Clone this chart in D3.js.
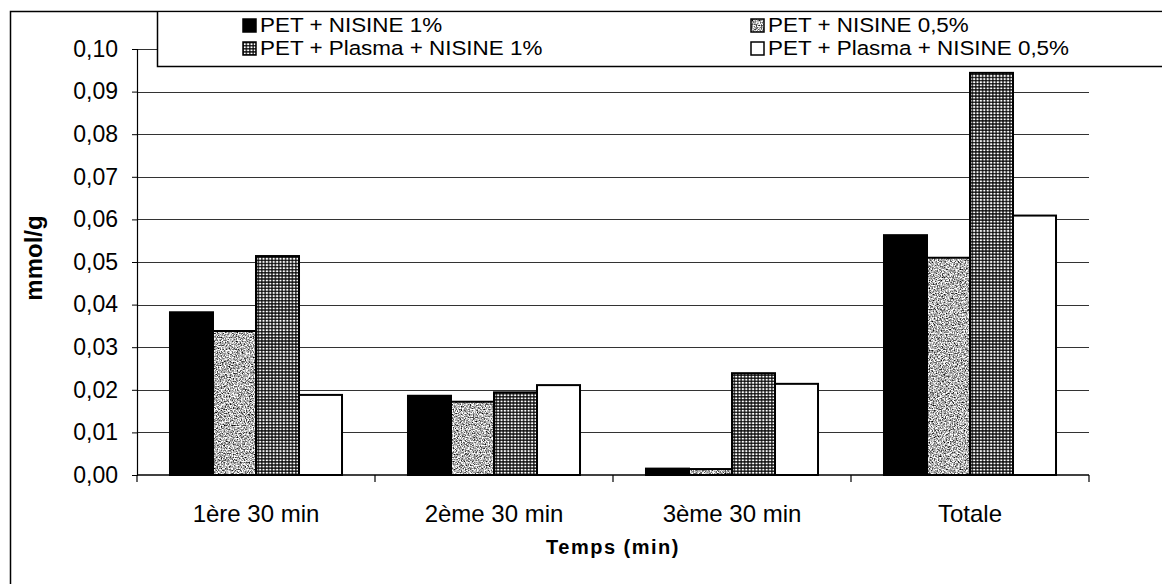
<!DOCTYPE html>
<html>
<head>
<meta charset="utf-8">
<script src="https://cdn.jsdelivr.net/npm/d3@7"></script>
<style>
  html, body { margin: 0; padding: 0; background: #fff; }
  svg { display: block; font-family: "Liberation Sans", Arial, sans-serif; }
</style>
</head>
<body>
<svg id="chart" width="1162" height="584"></svg>
<script>
// Categories along the time axis
const categories = ["1ère 30 min", "2ème 30 min", "3ème 30 min", "Totale"];

// Series names (legend order)
const seriesNames = [
  "PET + NISINE 1%",
  "PET + NISINE 0,5%",
  "PET + Plasma + NISINE 1%",
  "PET + Plasma + NISINE 0,5%"
];

// Values in mmol/g, one array per series
const nisine1 = [0.0382, 0.0186, 0.0015, 0.0563];
const nisine05 = [0.0338, 0.0172, 0.0014, 0.0510];
const plasmaNisine1 = [0.0514, 0.0194, 0.0239, 0.0944];
const plasmaNisine05 = [0.0188, 0.0211, 0.0214, 0.0609];

const yTicks = [0, 0.01, 0.02, 0.03, 0.04, 0.05, 0.06, 0.07, 0.08, 0.09, 0.10];

const seriesValues = [nisine1, nisine05, plasmaNisine1, plasmaNisine05];

const svg = d3.select("#chart");
const defs = svg.append("defs");

// Grainy grey texture
const grain = defs.append("filter")
  .attr("id", "grainFilter")
  .attr("x", 0).attr("y", 0).attr("width", 1).attr("height", 1)
  .attr("color-interpolation-filters", "sRGB");
grain.append("feTurbulence")
  .attr("type", "fractalNoise")
  .attr("baseFrequency", 0.75)
  .attr("numOctaves", 2)
  .attr("seed", 7)
  .attr("result", "noise");
grain.append("feColorMatrix")
  .attr("in", "noise")
  .attr("type", "matrix")
  .attr("values", "2.2 0 0 0 -0.4  2.2 0 0 0 -0.4  2.2 0 0 0 -0.4  0 0 0 0 1");
const grainPat = defs.append("pattern")
  .attr("id", "grain")
  .attr("patternUnits", "userSpaceOnUse")
  .attr("width", 200).attr("height", 200);
grainPat.append("rect")
  .attr("width", 200).attr("height", 200)
  .attr("fill", "#999")
  .attr("filter", "url(#grainFilter)");

// Dense dot texture
const dots = defs.append("pattern")
  .attr("id", "dots")
  .attr("patternUnits", "userSpaceOnUse")
  .attr("width", 3.4).attr("height", 3.1);
dots.append("rect").attr("width", 3.4).attr("height", 3.1).attr("fill", "#111");
dots.append("ellipse").attr("cx", 1.7).attr("cy", 1.55).attr("rx", 1.2).attr("ry", 1.0).attr("fill", "#fff");

const fills = ["#000", "url(#grain)", "url(#dots)", "#fff"];

// Plot geometry
const plot = { left: 137, right: 1089, top: 49, bottom: 475 };

const x = d3.scaleBand()
  .domain(categories)
  .range([plot.left, plot.right])
  .paddingInner(0).paddingOuter(0);

const xs = d3.scaleBand()
  .domain(seriesNames)
  .range([0, x.bandwidth()])
  .paddingInner(0)
  .paddingOuter(0.767);

const y = d3.scaleLinear()
  .domain([0, 0.10])
  .range([plot.bottom, plot.top]);

const fmt = v => d3.format(".2f")(v).replace(".", ",");

// Outer frame
svg.append("path")
  .attr("d", `M10.5,${584} V11.5 H${1162}`)
  .attr("fill", "none").attr("stroke", "#000").attr("stroke-width", 1.5);

// Gridlines
svg.append("g")
  .selectAll("line")
  .data(yTicks.slice(1))
  .join("line")
  .attr("x1", plot.left).attr("x2", plot.right)
  .attr("y1", d => Math.round(y(d)) + 0.5).attr("y2", d => Math.round(y(d)) + 0.5)
  .attr("stroke", "#333").attr("stroke-width", 1);

// Bars
const groups = svg.append("g")
  .selectAll("g")
  .data(seriesNames)
  .join("g");

groups.each(function(name, si) {
  d3.select(this).selectAll("rect")
    .data(categories.map((c, ci) => ({ c, v: seriesValues[si][ci] })))
    .join("rect")
    .attr("x", d => x(d.c) + xs(name))
    .attr("width", xs.bandwidth())
    .attr("y", d => y(d.v))
    .attr("height", d => y(0) - y(d.v))
    .attr("fill", fills[si])
    .attr("stroke", "#000")
    .attr("stroke-width", 2);
});

// Y axis
const yAxis = d3.axisLeft(y)
  .tickValues(yTicks)
  .tickFormat(fmt)
  .tickSize(5)
  .tickPadding(14);
const gy = svg.append("g")
  .attr("transform", `translate(${plot.left},0)`)
  .call(yAxis);
gy.select(".domain").attr("stroke", "#000").attr("stroke-width", 1.2);
gy.selectAll(".tick line").attr("stroke", "#000");
gy.selectAll(".tick text")
  .attr("font-family", "Liberation Sans, Arial, sans-serif")
  .attr("font-size", 23)
  .attr("fill", "#000");

// X axis with ticks on category boundaries
const gx = svg.append("g")
  .attr("transform", `translate(0,${plot.bottom})`);
gx.append("line")
  .attr("x1", plot.left).attr("x2", plot.right)
  .attr("stroke", "#000").attr("stroke-width", 1.5);
const boundaries = categories.map(c => x(c)).concat([x(categories[categories.length - 1]) + x.bandwidth()]);
gx.selectAll("line.tk")
  .data(boundaries)
  .join("line")
  .attr("class", "tk")
  .attr("x1", d => d).attr("x2", d => d)
  .attr("y1", 0).attr("y2", 7)
  .attr("stroke", "#000").attr("stroke-width", 1.2);
gx.selectAll("text")
  .data(categories)
  .join("text")
  .attr("x", d => x(d) + x.bandwidth() / 2)
  .attr("y", 47)
  .attr("text-anchor", "middle")
  .attr("font-size", 24)
  .attr("fill", "#000")
  .text(d => d);

// Axis titles
svg.append("text")
  .attr("x", (plot.left + plot.right) / 2)
  .attr("y", 554)
  .attr("text-anchor", "middle")
  .attr("font-size", 20)
  .attr("font-weight", "bold")
  .attr("letter-spacing", 1.5)
  .text("Temps (min)");

svg.append("text")
  .attr("transform", `translate(42,258) rotate(-90)`)
  .attr("text-anchor", "middle")
  .attr("font-size", 24)
  .attr("font-weight", "bold")
  .text("mmol/g");

// Legend box
svg.append("rect")
  .attr("x", 158).attr("y", 12.5).attr("width", 1004).attr("height", 53)
  .attr("fill", "#fff");
svg.append("path")
  .attr("d", `M157.5,11.5 V66.5 H1162`)
  .attr("fill", "none").attr("stroke", "#000").attr("stroke-width", 1.5);

const legendPos = [
  { sx: 243, ty: 32 },
  { sx: 751, ty: 32 },
  { sx: 243, ty: 55 },
  { sx: 751, ty: 55 }
];
const leg = svg.append("g")
  .selectAll("g")
  .data(seriesNames)
  .join("g")
  .attr("transform", (d, i) => `translate(${legendPos[i].sx},${legendPos[i].ty})`);
leg.append("rect")
  .attr("x", 0).attr("y", -13)
  .attr("width", 13).attr("height", 13)
  .attr("fill", (d, i) => fills[i])
  .attr("stroke", "#000").attr("stroke-width", 1.5);
leg.append("text")
  .attr("transform", "translate(17,0) scale(1.15,1)")
  .attr("font-size", 19.5)
  .attr("fill", "#000")
  .text(d => d);
</script>
</body>
</html>
